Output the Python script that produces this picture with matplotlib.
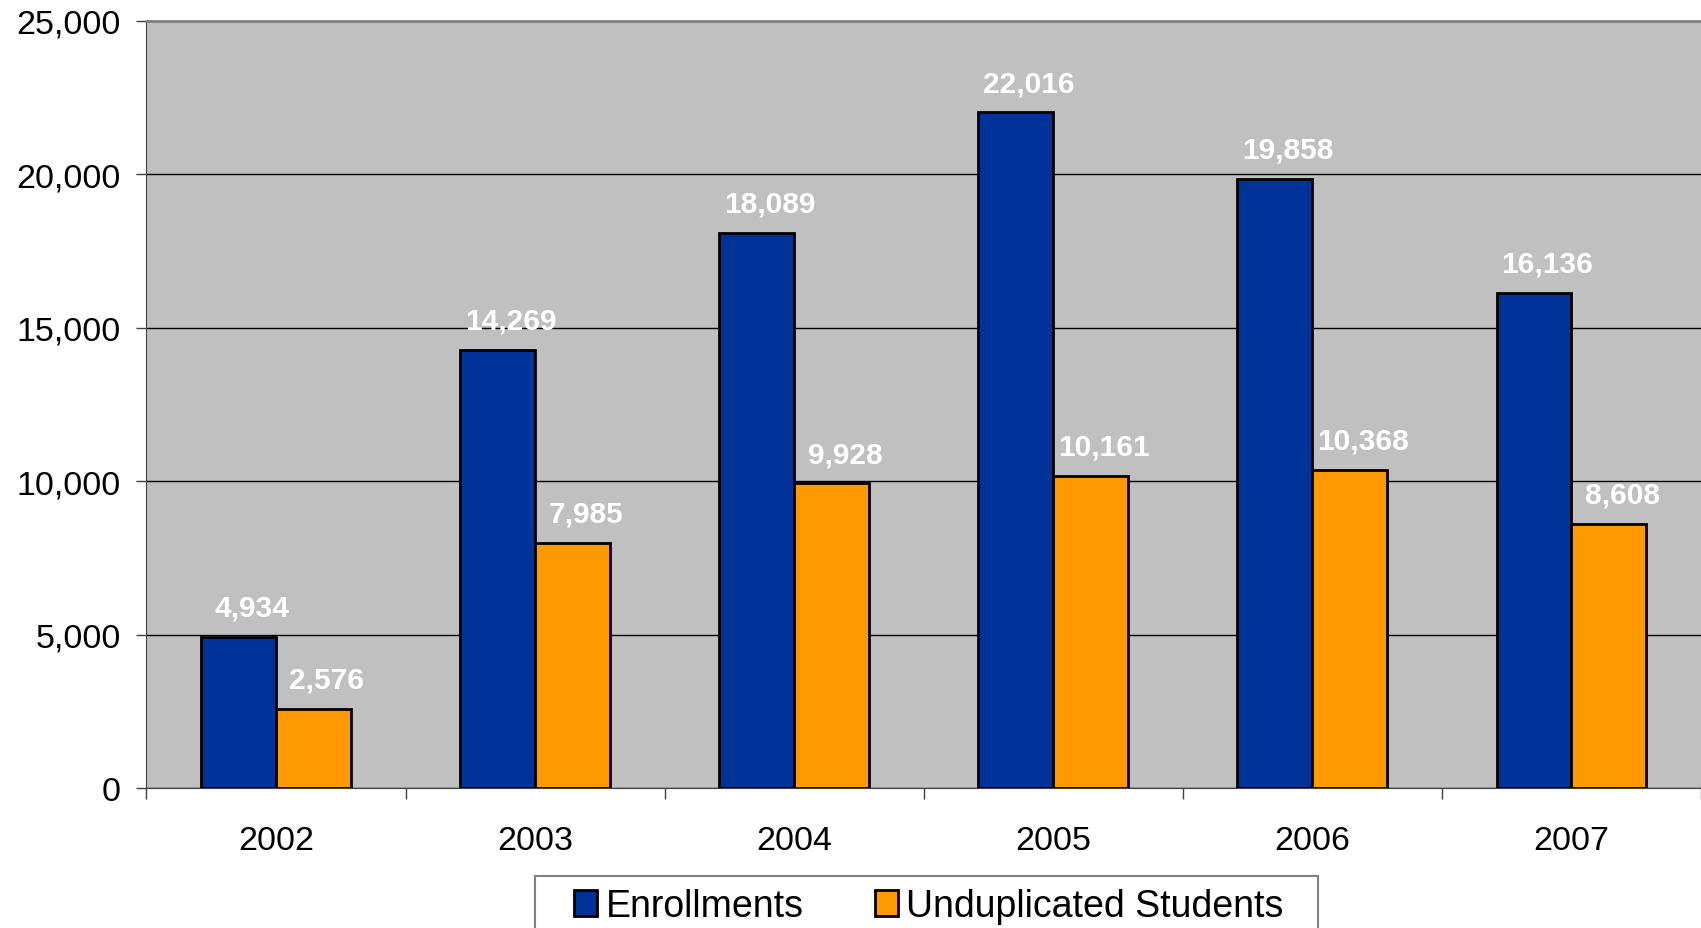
import numpy as np
import matplotlib
matplotlib.use("Agg")
import matplotlib.pyplot as plt
from matplotlib.patches import Rectangle

plt.rcParams['font.family'] = ['Liberation Sans', 'DejaVu Sans']

years = ['2002', '2003', '2004', '2005', '2006', '2007']
enrollments = [4934, 14269, 18089, 22016, 19858, 16136]
unduplicated = [2576, 7985, 9928, 10161, 10368, 8608]

blue = '#003399'
orange = '#FF9900'

fig = plt.figure(figsize=(17.01, 9.29), dpi=100)
ax = fig.add_axes([0.0861, 0.1507, 0.9139, 0.8259])
ax.set_facecolor('#C0C0C0')

x = np.arange(len(years))
w = 0.289
b1 = ax.bar(x - w / 2, enrollments, w, color=blue, edgecolor='black', linewidth=2, label='Enrollments', zorder=3)
b2 = ax.bar(x + w / 2, unduplicated, w, color=orange, edgecolor='black', linewidth=2, label='Unduplicated Students', zorder=3)

# value labels, white bold, a bit right of centre like Excel does
for bars, vals in ((b1, enrollments), (b2, unduplicated)):
    for r, v in zip(bars, vals):
        ax.annotate(f'{v:,}', xy=(r.get_x() + r.get_width() / 2, v),
                    xytext=(9.5, 21), textcoords='offset points',
                    ha='center', va='center', color='white', fontsize=21.5, fontweight='bold')

ax.set_xlim(-0.5, len(years) - 0.5)
ax.set_ylim(0, 25000)
ax.set_yticks(np.arange(0, 25001, 5000))
ax.set_yticklabels([f'{v:,}' for v in range(0, 25001, 5000)], fontsize=24.5)
ax.yaxis.grid(True, color='black', linewidth=1, zorder=0)
ax.set_axisbelow(True)

ax.set_xticks(np.arange(-0.5, len(years)))
ax.set_xticklabels([])
ax.set_xticks(x, minor=True)
ax.set_xticklabels(years, minor=True, fontsize=24.5)
ax.tick_params(axis='x', which='minor', length=0, pad=26.5)
ax.tick_params(axis='x', which='major', length=8, width=1, color='#404040')
ax.tick_params(axis='y', length=7.5, width=1, color='#404040', pad=11)

ax.spines['right'].set_visible(False)
ax.spines['top'].set_color('#808080')
ax.spines['top'].set_linewidth(2)
ax.spines['left'].set_color('#404040')
ax.spines['bottom'].set_color('#404040')

# legend box (cut off by the bottom edge in the original)
fig.add_artist(Rectangle((535 / 1701, -0.02), (1318 - 535) / 1701, 0.02 + 1 - 877 / 929,
                         transform=fig.transFigure, facecolor='white',
                         edgecolor='#808080', linewidth=1.5, clip_on=False))
leg = fig.legend(handles=[b1, b2], loc='upper left', bbox_to_anchor=(574 / 1701, 1 - 889 / 929),
                 ncol=2, fontsize=27, frameon=False,
                 handlelength=0.62, handleheight=0.72, handletextpad=0.22,
                 columnspacing=1.9, borderpad=0, borderaxespad=0)

fig.savefig('out.png', dpi=100)
